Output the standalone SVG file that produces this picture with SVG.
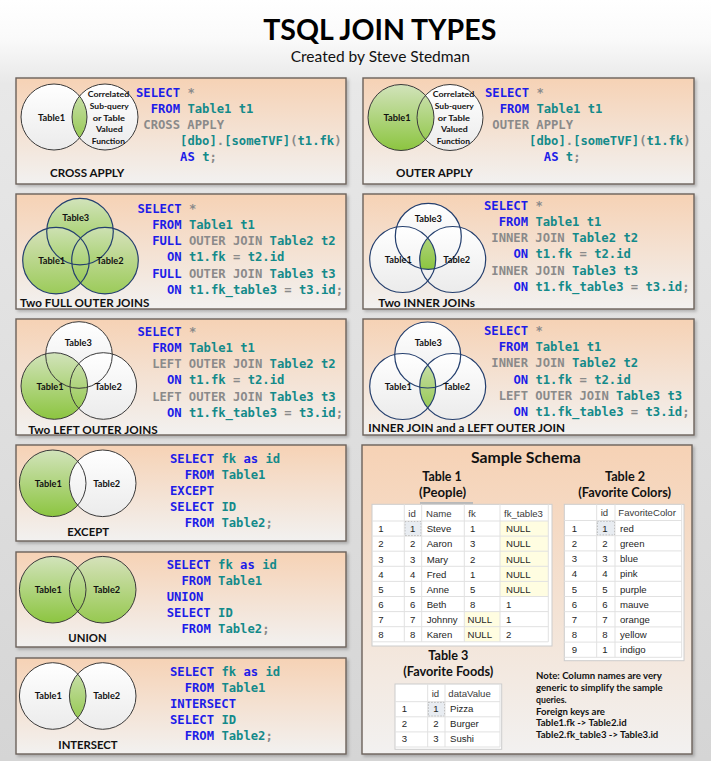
<svg xmlns="http://www.w3.org/2000/svg" width="711" height="761" viewBox="0 0 711 761">
<defs>
<linearGradient id="bg" x1="0" y1="0" x2="0" y2="1"><stop offset="0" stop-color="#ffffff"/><stop offset="0.05" stop-color="#fafafa"/><stop offset="0.11" stop-color="#e8e8e8"/><stop offset="1" stop-color="#d5d5d5"/></linearGradient>
<linearGradient id="pg" x1="0" y1="0" x2="0" y2="1"><stop offset="0" stop-color="#f6d2b5"/><stop offset="1" stop-color="#f2f1f0"/></linearGradient>
<linearGradient id="gr" x1="0" y1="0" x2="0" y2="1"><stop offset="0" stop-color="#d2e3bb"/><stop offset="1" stop-color="#8cc540"/></linearGradient>
<linearGradient id="wh" x1="0" y1="0" x2="0" y2="1"><stop offset="0" stop-color="#ffffff"/><stop offset="1" stop-color="#ebebeb"/></linearGradient>
<filter id="sh" x="-5%" y="-5%" width="112%" height="115%"><feDropShadow dx="2" dy="2" stdDeviation="1.5" flood-color="#000" flood-opacity="0.22"/></filter>
<clipPath id="p1a"><circle cx="54" cy="117" r="33"/></clipPath>
<clipPath id="p2a"><circle cx="401" cy="117.5" r="33"/></clipPath>
<clipPath id="p4a"><circle cx="402.7" cy="259.5" r="33"/></clipPath>
<clipPath id="p4b"><circle cx="452.7" cy="259.5" r="33"/></clipPath>
<clipPath id="p6a"><circle cx="402.7" cy="386.5" r="33"/></clipPath>
<clipPath id="p10a"><circle cx="52.7" cy="696" r="33.3"/></clipPath>
<style>
.panel{fill:url(#pg);stroke:#6c625b;stroke-width:1.4;filter:url(#sh)}
.c{font-family:"DejaVu Sans Mono","Liberation Mono",monospace;font-size:12.2px;font-weight:bold;fill:#138a8a}
.k{fill:#1c1ce8}
.t{fill:#138a8a}
.g{fill:#8a8a8a}
.gf{fill:url(#gr)}
.wf{fill:url(#wh)}
.cs{fill:none;stroke:#3a3a3a;stroke-width:1}
.cn{fill:none;stroke:#243f6e;stroke-width:1.2}
.vl{font-family:Lato,"Liberation Sans",sans-serif;font-weight:bold;font-size:8.5px;fill:#111;text-anchor:middle}
.sl{font-family:Lato,"Liberation Sans",sans-serif;font-weight:bold;font-size:8.3px;fill:#111;text-anchor:middle}
.pl{font-family:Lato,"Liberation Sans",sans-serif;font-weight:bold;font-size:11.5px;fill:#111}
.hd{font-family:Lato,"Liberation Sans",sans-serif;font-weight:bold;fill:#111;text-anchor:middle}
.nt{font-family:Lato,"Liberation Sans",sans-serif;font-weight:bold;font-size:8.6px;fill:#111}
.tb{fill:#ffffff;stroke:#cccccc;stroke-width:1}
.gl{stroke:#e1e1e1;stroke-width:1}
.td{font-family:"Liberation Sans",Arial,sans-serif;font-size:9.6px;fill:#262626}
.th{font-family:"Liberation Sans",Arial,sans-serif;font-size:9.6px;fill:#3a3a3a}
.yl{fill:#fffde1}
.sel{fill:#e8ecf1;stroke:#8a8a8a;stroke-width:0.8;stroke-dasharray:1.5 1.5}
</style>
</defs>

<rect x="0" y="0" width="711" height="761" fill="url(#bg)"/>

<g id="title">
<text x="263.3" y="39.5" font-family="Lato, 'Liberation Sans', sans-serif" font-weight="bold" font-size="29" fill="#000" textLength="233" lengthAdjust="spacingAndGlyphs">TSQL JOIN TYPES</text>
<text x="290.7" y="61.7" font-family="Lato, 'Liberation Sans', sans-serif" font-size="15" fill="#111" textLength="179.3" lengthAdjust="spacingAndGlyphs">Created by Steve Stedman</text>
</g>

<g id="connectors"/>

<!-- CROSS APPLY -->
<g id="cross-apply">
<rect class="panel" x="16" y="78" width="330" height="106"/>
<circle class="wf" cx="54" cy="117" r="33"/>
<circle class="wf" cx="105" cy="117" r="33"/>
<circle class="gf" cx="105" cy="117" r="33" clip-path="url(#p1a)"/>
<circle class="cs" cx="54" cy="117" r="33"/>
<circle class="cs" cx="105" cy="117" r="33"/>
<text class="vl" x="51.5" y="120.7" textLength="27" lengthAdjust="spacingAndGlyphs">Table1</text>
<text class="sl" x="108.4" y="97.3" textLength="41.5" lengthAdjust="spacingAndGlyphs">Correlated</text>
<text class="sl" x="109.3" y="108.9" textLength="39" lengthAdjust="spacingAndGlyphs">Sub-query</text>
<text class="sl" x="108.8" y="120.6" textLength="32.3" lengthAdjust="spacingAndGlyphs">or Table</text>
<text class="sl" x="109.3" y="132.1" textLength="26.7" lengthAdjust="spacingAndGlyphs">Valued</text>
<text class="sl" x="108.3" y="143.6" textLength="33.3" lengthAdjust="spacingAndGlyphs">Function</text>
<text class="pl" x="50" y="176.5" textLength="74.3" lengthAdjust="spacingAndGlyphs">CROSS APPLY</text>
<text class="c" x="136" y="97"><tspan class="k">SELECT</tspan> <tspan class="g">*</tspan></text>
<text class="c" x="150.7" y="113"><tspan class="k">FROM</tspan> <tspan class="t">Table1 t1</tspan></text>
<text class="c g" x="143.3" y="129">CROSS APPLY</text>
<text class="c" x="180.1" y="145"><tspan class="t">[dbo]</tspan><tspan class="g">.</tspan><tspan class="t">[someTVF]</tspan><tspan class="g">(</tspan><tspan class="t">t1.fk</tspan><tspan class="g">)</tspan></text>
<text class="c" x="180.1" y="161"><tspan class="k">AS</tspan> <tspan class="t">t</tspan><tspan class="g">;</tspan></text>
</g>

<!-- OUTER APPLY -->
<g id="outer-apply">
<rect class="panel" x="363" y="78" width="331" height="106"/>
<circle class="gf" cx="401" cy="117.5" r="33"/>
<circle class="wf" cx="450" cy="117.5" r="33"/>
<circle class="gf" cx="450" cy="117.5" r="33" clip-path="url(#p2a)"/>
<circle class="cs" cx="401" cy="117.5" r="33"/>
<circle class="cs" cx="450" cy="117.5" r="33"/>
<text class="vl" x="397" y="120.7" textLength="27" lengthAdjust="spacingAndGlyphs">Table1</text>
<text class="sl" x="453.5" y="97.3" textLength="41.5" lengthAdjust="spacingAndGlyphs">Correlated</text>
<text class="sl" x="454.3" y="108.9" textLength="39" lengthAdjust="spacingAndGlyphs">Sub-query</text>
<text class="sl" x="453.8" y="120.6" textLength="32.3" lengthAdjust="spacingAndGlyphs">or Table</text>
<text class="sl" x="454.3" y="132.1" textLength="26.7" lengthAdjust="spacingAndGlyphs">Valued</text>
<text class="sl" x="453.3" y="143.6" textLength="33.3" lengthAdjust="spacingAndGlyphs">Function</text>
<text class="pl" x="396" y="176.5" textLength="76.7" lengthAdjust="spacingAndGlyphs">OUTER APPLY</text>
<text class="c" x="485" y="97"><tspan class="k">SELECT</tspan> <tspan class="g">*</tspan></text>
<text class="c" x="499.7" y="113"><tspan class="k">FROM</tspan> <tspan class="t">Table1 t1</tspan></text>
<text class="c g" x="492.3" y="129">OUTER APPLY</text>
<text class="c" x="529.1" y="145"><tspan class="t">[dbo]</tspan><tspan class="g">.</tspan><tspan class="t">[someTVF]</tspan><tspan class="g">(</tspan><tspan class="t">t1.fk</tspan><tspan class="g">)</tspan></text>
<text class="c" x="543.8" y="161"><tspan class="k">AS</tspan> <tspan class="t">t</tspan><tspan class="g">;</tspan></text>
</g>

<!-- Two FULL OUTER JOINS -->
<g id="full-outer-joins">
<rect class="panel" x="16" y="194" width="330" height="115"/>
<circle class="gf" cx="80" cy="231.6" r="33.3"/>
<circle class="gf" cx="56" cy="260.6" r="33.3" opacity="0.85"/>
<circle class="gf" cx="105" cy="260.6" r="33.3" opacity="0.85"/>
<circle class="cn" cx="80" cy="231.6" r="33.3"/>
<circle class="cn" cx="56" cy="260.6" r="33.3"/>
<circle class="cn" cx="105" cy="260.6" r="33.3"/>
<text class="vl" x="75.7" y="220.8" textLength="27" lengthAdjust="spacingAndGlyphs">Table3</text>
<text class="vl" x="51.7" y="264" textLength="27" lengthAdjust="spacingAndGlyphs">Table1</text>
<text class="vl" x="110" y="264" textLength="27" lengthAdjust="spacingAndGlyphs">Table2</text>
<text class="pl" x="20" y="306.5" textLength="129.3" lengthAdjust="spacingAndGlyphs">Two FULL OUTER JOINS</text>
<text class="c" x="137.5" y="212.7"><tspan class="k">SELECT</tspan> <tspan class="g">*</tspan></text>
<text class="c" x="152.2" y="228.9"><tspan class="k">FROM</tspan> <tspan class="t">Table1 t1</tspan></text>
<text class="c" x="152.2" y="245.1"><tspan class="k">FULL</tspan> <tspan class="g">OUTER JOIN</tspan> <tspan class="t">Table2 t2</tspan></text>
<text class="c" x="166.9" y="261.3"><tspan class="k">ON</tspan> <tspan class="t">t1.fk</tspan> <tspan class="g">=</tspan> <tspan class="t">t2.id</tspan></text>
<text class="c" x="152.2" y="277.5"><tspan class="k">FULL</tspan> <tspan class="g">OUTER JOIN</tspan> <tspan class="t">Table3 t3</tspan></text>
<text class="c" x="166.9" y="293.7"><tspan class="k">ON</tspan> <tspan class="t">t1.fk_table3</tspan> <tspan class="g">=</tspan> <tspan class="t">t3.id</tspan><tspan class="g">;</tspan></text>
</g>

<!-- Two INNER JOINs -->
<g id="inner-joins">
<rect class="panel" x="363" y="194" width="331" height="115"/>
<circle class="wf" cx="428.3" cy="236.3" r="33"/>
<circle class="wf" cx="402.7" cy="259.5" r="33"/>
<circle class="wf" cx="452.7" cy="259.5" r="33"/>
<g clip-path="url(#p4a)"><g clip-path="url(#p4b)"><circle class="gf" cx="428.3" cy="236.3" r="33"/></g></g>
<circle class="cn" cx="428.3" cy="236.3" r="33"/>
<circle class="cn" cx="402.7" cy="259.5" r="33"/>
<circle class="cn" cx="452.7" cy="259.5" r="33"/>
<text class="vl" x="428.3" y="221.7" textLength="27" lengthAdjust="spacingAndGlyphs">Table3</text>
<text class="vl" x="398.3" y="263.3" textLength="27" lengthAdjust="spacingAndGlyphs">Table1</text>
<text class="vl" x="456.7" y="263.3" textLength="27" lengthAdjust="spacingAndGlyphs">Table2</text>
<text class="pl" x="378.3" y="306.5" textLength="96.7" lengthAdjust="spacingAndGlyphs">Two INNER JOINs</text>
<text class="c" x="484" y="209.5"><tspan class="k">SELECT</tspan> <tspan class="g">*</tspan></text>
<text class="c" x="498.7" y="225.8"><tspan class="k">FROM</tspan> <tspan class="t">Table1 t1</tspan></text>
<text class="c" x="491.3" y="242.1"><tspan class="g">INNER JOIN</tspan> <tspan class="t">Table2 t2</tspan></text>
<text class="c" x="513.4" y="258.4"><tspan class="k">ON</tspan> <tspan class="t">t1.fk</tspan> <tspan class="g">=</tspan> <tspan class="t">t2.id</tspan></text>
<text class="c" x="491.3" y="274.7"><tspan class="g">INNER JOIN</tspan> <tspan class="t">Table3 t3</tspan></text>
<text class="c" x="513.4" y="291"><tspan class="k">ON</tspan> <tspan class="t">t1.fk_table3</tspan> <tspan class="g">=</tspan> <tspan class="t">t3.id</tspan><tspan class="g">;</tspan></text>
</g>

<!-- Two LEFT OUTER JOINS -->
<g id="left-outer-joins">
<rect class="panel" x="16" y="319" width="330" height="116"/>
<circle class="wf" cx="79" cy="355" r="33.3"/>
<circle class="wf" cx="103.3" cy="386" r="33.3"/>
<circle class="gf" cx="54.3" cy="386" r="33.3"/>
<circle class="cs" cx="79" cy="355" r="33.3"/>
<circle class="cs" cx="54.3" cy="386" r="33.3"/>
<circle class="cs" cx="103.3" cy="386" r="33.3"/>
<text class="vl" x="78.3" y="345.6" textLength="27" lengthAdjust="spacingAndGlyphs">Table3</text>
<text class="vl" x="50" y="390.3" textLength="27" lengthAdjust="spacingAndGlyphs">Table1</text>
<text class="vl" x="108.3" y="390.3" textLength="27" lengthAdjust="spacingAndGlyphs">Table2</text>
<text class="pl" x="28.3" y="433.5" textLength="129.3" lengthAdjust="spacingAndGlyphs">Two LEFT OUTER JOINS</text>
<text class="c" x="137.5" y="335.7"><tspan class="k">SELECT</tspan> <tspan class="g">*</tspan></text>
<text class="c" x="152.2" y="351.9"><tspan class="k">FROM</tspan> <tspan class="t">Table1 t1</tspan></text>
<text class="c" x="152.2" y="368.1"><tspan class="g">LEFT OUTER JOIN</tspan> <tspan class="t">Table2 t2</tspan></text>
<text class="c" x="166.9" y="384.3"><tspan class="k">ON</tspan> <tspan class="t">t1.fk</tspan> <tspan class="g">=</tspan> <tspan class="t">t2.id</tspan></text>
<text class="c" x="152.2" y="400.5"><tspan class="g">LEFT OUTER JOIN</tspan> <tspan class="t">Table3 t3</tspan></text>
<text class="c" x="166.9" y="416.7"><tspan class="k">ON</tspan> <tspan class="t">t1.fk_table3</tspan> <tspan class="g">=</tspan> <tspan class="t">t3.id</tspan><tspan class="g">;</tspan></text>
</g>

<!-- INNER JOIN and a LEFT OUTER JOIN -->
<g id="inner-and-left-join">
<rect class="panel" x="363" y="319" width="331" height="116"/>
<circle class="wf" cx="427.7" cy="355" r="33"/>
<circle class="wf" cx="402.7" cy="386.5" r="33"/>
<circle class="wf" cx="452.7" cy="386.5" r="33"/>
<circle class="gf" cx="452.7" cy="386.5" r="33" clip-path="url(#p6a)"/>
<circle class="cn" cx="427.7" cy="355" r="33"/>
<circle class="cn" cx="402.7" cy="386.5" r="33"/>
<circle class="cn" cx="452.7" cy="386.5" r="33"/>
<text class="vl" x="428.3" y="345.6" textLength="27" lengthAdjust="spacingAndGlyphs">Table3</text>
<text class="vl" x="398.3" y="390.3" textLength="27" lengthAdjust="spacingAndGlyphs">Table1</text>
<text class="vl" x="456.7" y="390.3" textLength="27" lengthAdjust="spacingAndGlyphs">Table2</text>
<text class="pl" x="368.3" y="432.3" textLength="196.7" lengthAdjust="spacingAndGlyphs">INNER JOIN and a LEFT OUTER JOIN</text>
<text class="c" x="484" y="335"><tspan class="k">SELECT</tspan> <tspan class="g">*</tspan></text>
<text class="c" x="498.7" y="351.2"><tspan class="k">FROM</tspan> <tspan class="t">Table1 t1</tspan></text>
<text class="c" x="491.3" y="367.4"><tspan class="g">INNER JOIN</tspan> <tspan class="t">Table2 t2</tspan></text>
<text class="c" x="513.4" y="383.6"><tspan class="k">ON</tspan> <tspan class="t">t1.fk</tspan> <tspan class="g">=</tspan> <tspan class="t">t2.id</tspan></text>
<text class="c" x="498.7" y="399.8"><tspan class="g">LEFT OUTER JOIN</tspan> <tspan class="t">Table3 t3</tspan></text>
<text class="c" x="513.4" y="416"><tspan class="k">ON</tspan> <tspan class="t">t1.fk_table3</tspan> <tspan class="g">=</tspan> <tspan class="t">t3.id</tspan><tspan class="g">;</tspan></text>
</g>

<!-- EXCEPT -->
<g id="except">
<rect class="panel" x="16" y="445" width="330" height="96"/>
<circle class="gf" cx="52.7" cy="483.3" r="33.3"/>
<circle class="wf" cx="102.7" cy="483.3" r="33.3"/>
<circle class="cs" cx="52.7" cy="483.3" r="33.3"/>
<circle class="cs" cx="102.7" cy="483.3" r="33.3"/>
<text class="vl" x="48.3" y="486.7" textLength="27" lengthAdjust="spacingAndGlyphs">Table1</text>
<text class="vl" x="106.7" y="486.7" textLength="27" lengthAdjust="spacingAndGlyphs">Table2</text>
<text class="pl" x="67.3" y="535.5" textLength="41.7" lengthAdjust="spacingAndGlyphs">EXCEPT</text>
<text class="c" x="170" y="463"><tspan class="k">SELECT</tspan> <tspan class="t">fk</tspan> <tspan class="k">as</tspan> <tspan class="t">id</tspan></text>
<text class="c" x="184.7" y="479"><tspan class="k">FROM</tspan> <tspan class="t">Table1</tspan></text>
<text class="c k" x="170" y="495">EXCEPT</text>
<text class="c" x="170" y="511"><tspan class="k">SELECT</tspan> <tspan class="t">ID</tspan></text>
<text class="c" x="184.7" y="527"><tspan class="k">FROM</tspan> <tspan class="t">Table2</tspan><tspan class="g">;</tspan></text>
</g>

<!-- UNION -->
<g id="union">
<rect class="panel" x="16" y="552" width="330" height="95"/>
<circle class="gf" cx="52.7" cy="589.7" r="33.3"/>
<circle class="gf" cx="102.7" cy="589.7" r="33.3" opacity="0.9"/>
<circle class="cs" cx="52.7" cy="589.7" r="33.3"/>
<circle class="cs" cx="102.7" cy="589.7" r="33.3"/>
<text class="vl" x="48.3" y="592.7" textLength="27" lengthAdjust="spacingAndGlyphs">Table1</text>
<text class="vl" x="106.7" y="592.7" textLength="27" lengthAdjust="spacingAndGlyphs">Table2</text>
<text class="pl" x="68.3" y="641.5" textLength="38.3" lengthAdjust="spacingAndGlyphs">UNION</text>
<text class="c" x="166.7" y="569"><tspan class="k">SELECT</tspan> <tspan class="t">fk</tspan> <tspan class="k">as</tspan> <tspan class="t">id</tspan></text>
<text class="c" x="181.4" y="585.1"><tspan class="k">FROM</tspan> <tspan class="t">Table1</tspan></text>
<text class="c k" x="166.7" y="601.2">UNION</text>
<text class="c" x="166.7" y="617.3"><tspan class="k">SELECT</tspan> <tspan class="t">ID</tspan></text>
<text class="c" x="181.4" y="633.4"><tspan class="k">FROM</tspan> <tspan class="t">Table2</tspan><tspan class="g">;</tspan></text>
</g>

<!-- INTERSECT -->
<g id="intersect">
<rect class="panel" x="16" y="658" width="330" height="96"/>
<circle class="wf" cx="52.7" cy="696" r="33.3"/>
<circle class="wf" cx="102.7" cy="696" r="33.3"/>
<circle class="gf" cx="102.7" cy="696" r="33.3" clip-path="url(#p10a)"/>
<circle class="cs" cx="52.7" cy="696" r="33.3"/>
<circle class="cs" cx="102.7" cy="696" r="33.3"/>
<text class="vl" x="48.3" y="699.2" textLength="27" lengthAdjust="spacingAndGlyphs">Table1</text>
<text class="vl" x="106.7" y="699.2" textLength="27" lengthAdjust="spacingAndGlyphs">Table2</text>
<text class="pl" x="58.3" y="748.5" textLength="59.3" lengthAdjust="spacingAndGlyphs">INTERSECT</text>
<text class="c" x="170" y="676"><tspan class="k">SELECT</tspan> <tspan class="t">fk</tspan> <tspan class="k">as</tspan> <tspan class="t">id</tspan></text>
<text class="c" x="184.7" y="692"><tspan class="k">FROM</tspan> <tspan class="t">Table1</tspan></text>
<text class="c k" x="170" y="708">INTERSECT</text>
<text class="c" x="170" y="724"><tspan class="k">SELECT</tspan> <tspan class="t">ID</tspan></text>
<text class="c" x="184.7" y="740"><tspan class="k">FROM</tspan> <tspan class="t">Table2</tspan><tspan class="g">;</tspan></text>
</g>

<!-- Sample Schema -->
<g id="sample-schema">
<rect class="panel" x="362" y="445" width="330" height="309"/>
<text class="hd" x="525.8" y="463.3" font-size="15.5" textLength="109.7" lengthAdjust="spacingAndGlyphs">Sample Schema</text>
<text class="hd" x="442" y="480.8" font-size="12.5" textLength="39.3" lengthAdjust="spacingAndGlyphs">Table 1</text>
<text class="hd" x="442.5" y="496.5" font-size="12.5" textLength="47" lengthAdjust="spacingAndGlyphs">(People)</text>
<text class="hd" x="625" y="480.8" font-size="12.5" textLength="40" lengthAdjust="spacingAndGlyphs">Table 2</text>
<text class="hd" x="624.7" y="496.5" font-size="12.5" textLength="92.7" lengthAdjust="spacingAndGlyphs">(Favorite Colors)</text>
<text class="hd" x="448.3" y="660" font-size="12.5" textLength="40" lengthAdjust="spacingAndGlyphs">Table 3</text>
<text class="hd" x="448.3" y="676" font-size="12.5" textLength="90" lengthAdjust="spacingAndGlyphs">(Favorite Foods)</text>

<g id="table1">
<rect x="420" y="502" width="53" height="3" fill="#b8b8b8"/>
<rect class="tb" x="372" y="504.3" width="180" height="141.7"/>
<rect class="yl" x="500" y="521" width="48.3" height="75.5"/>
<rect class="yl" x="464.3" y="611.6" width="35.7" height="30.2"/>
<rect class="sel" x="404.8" y="521.5" width="16.4" height="14.1"/>
<g class="gl">
<line x1="404.3" y1="504.3" x2="404.3" y2="641.8"/><line x1="421.7" y1="504.3" x2="421.7" y2="641.8"/><line x1="464.3" y1="504.3" x2="464.3" y2="641.8"/><line x1="500" y1="504.3" x2="500" y2="641.8"/><line x1="548.3" y1="504.3" x2="548.3" y2="641.8"/>
<line x1="372" y1="521" x2="548.3" y2="521"/><line x1="372" y1="536.1" x2="548.3" y2="536.1"/><line x1="372" y1="551.2" x2="548.3" y2="551.2"/><line x1="372" y1="566.3" x2="548.3" y2="566.3"/><line x1="372" y1="581.4" x2="548.3" y2="581.4"/><line x1="372" y1="596.5" x2="548.3" y2="596.5"/><line x1="372" y1="611.6" x2="548.3" y2="611.6"/><line x1="372" y1="626.7" x2="548.3" y2="626.7"/><line x1="372" y1="641.8" x2="548.3" y2="641.8"/>
</g>
<text class="th" x="408.3" y="517.3">id</text><text class="th" x="426" y="517.3">Name</text><text class="th" x="468.3" y="517.3">fk</text><text class="th" x="504" y="517.3">fk_table3</text>
<text class="td" y="532.3"><tspan x="378.3">1</tspan><tspan x="410">1</tspan><tspan x="426.7">Steve</tspan><tspan x="470">1</tspan><tspan x="506">NULL</tspan></text>
<text class="td" y="547.4"><tspan x="378.3">2</tspan><tspan x="410">2</tspan><tspan x="426.7">Aaron</tspan><tspan x="470">3</tspan><tspan x="506">NULL</tspan></text>
<text class="td" y="562.5"><tspan x="378.3">3</tspan><tspan x="410">3</tspan><tspan x="426.7">Mary</tspan><tspan x="470">2</tspan><tspan x="506">NULL</tspan></text>
<text class="td" y="577.6"><tspan x="378.3">4</tspan><tspan x="410">4</tspan><tspan x="426.7">Fred</tspan><tspan x="470">1</tspan><tspan x="506">NULL</tspan></text>
<text class="td" y="592.7"><tspan x="378.3">5</tspan><tspan x="410">5</tspan><tspan x="426.7">Anne</tspan><tspan x="470">5</tspan><tspan x="506">NULL</tspan></text>
<text class="td" y="607.8"><tspan x="378.3">6</tspan><tspan x="410">6</tspan><tspan x="426.7">Beth</tspan><tspan x="470">8</tspan><tspan x="506">1</tspan></text>
<text class="td" y="622.9"><tspan x="378.3">7</tspan><tspan x="410">7</tspan><tspan x="426.7">Johnny</tspan><tspan x="467.5">NULL</tspan><tspan x="506">1</tspan></text>
<text class="td" y="638"><tspan x="378.3">8</tspan><tspan x="410">8</tspan><tspan x="426.7">Karen</tspan><tspan x="467.5">NULL</tspan><tspan x="506">2</tspan></text>
</g>

<g id="table2">
<rect class="tb" x="564.3" y="504.3" width="119.7" height="156.4"/>
<rect class="sel" x="597.2" y="521" width="17.3" height="14.2"/>
<g class="gl">
<line x1="596.7" y1="504.3" x2="596.7" y2="657.3"/><line x1="615" y1="504.3" x2="615" y2="657.3"/><line x1="681.7" y1="504.3" x2="681.7" y2="657.3"/>
<line x1="564.3" y1="520.5" x2="681.7" y2="520.5"/><line x1="564.3" y1="535.7" x2="681.7" y2="535.7"/><line x1="564.3" y1="550.9" x2="681.7" y2="550.9"/><line x1="564.3" y1="566.1" x2="681.7" y2="566.1"/><line x1="564.3" y1="581.3" x2="681.7" y2="581.3"/><line x1="564.3" y1="596.5" x2="681.7" y2="596.5"/><line x1="564.3" y1="611.7" x2="681.7" y2="611.7"/><line x1="564.3" y1="626.9" x2="681.7" y2="626.9"/><line x1="564.3" y1="642.1" x2="681.7" y2="642.1"/><line x1="564.3" y1="657.3" x2="681.7" y2="657.3"/>
</g>
<text class="th" x="600.7" y="516">id</text><text class="th" x="618.3" y="516">FavoriteColor</text>
<text class="td" y="531.7"><tspan x="571.7">1</tspan><tspan x="602.3">1</tspan><tspan x="620">red</tspan></text>
<text class="td" y="546.9"><tspan x="571.7">2</tspan><tspan x="602.3">2</tspan><tspan x="620">green</tspan></text>
<text class="td" y="562.1"><tspan x="571.7">3</tspan><tspan x="602.3">3</tspan><tspan x="620">blue</tspan></text>
<text class="td" y="577.3"><tspan x="571.7">4</tspan><tspan x="602.3">4</tspan><tspan x="620">pink</tspan></text>
<text class="td" y="592.5"><tspan x="571.7">5</tspan><tspan x="602.3">5</tspan><tspan x="620">purple</tspan></text>
<text class="td" y="607.7"><tspan x="571.7">6</tspan><tspan x="602.3">6</tspan><tspan x="620">mauve</tspan></text>
<text class="td" y="622.9"><tspan x="571.7">7</tspan><tspan x="602.3">7</tspan><tspan x="620">orange</tspan></text>
<text class="td" y="638.1"><tspan x="571.7">8</tspan><tspan x="602.3">8</tspan><tspan x="620">yellow</tspan></text>
<text class="td" y="653.3"><tspan x="571.7">9</tspan><tspan x="602.3">1</tspan><tspan x="620">indigo</tspan></text>
</g>

<g id="table3">
<rect class="tb" x="395" y="684" width="106.7" height="65.3"/>
<rect class="sel" x="428.2" y="702.2" width="16.3" height="14"/>
<g class="gl">
<line x1="427.7" y1="684" x2="427.7" y2="747"/><line x1="445" y1="684" x2="445" y2="747"/><line x1="500" y1="684" x2="500" y2="747"/>
<line x1="395" y1="701.7" x2="500" y2="701.7"/><line x1="395" y1="716.8" x2="500" y2="716.8"/><line x1="395" y1="731.9" x2="500" y2="731.9"/><line x1="395" y1="747" x2="500" y2="747"/>
</g>
<text class="th" x="431.7" y="696.7">id</text><text class="th" x="448.3" y="696.7">dataValue</text>
<text class="td" y="711.7"><tspan x="401.7">1</tspan><tspan x="433.3">1</tspan><tspan x="450">Pizza</tspan></text>
<text class="td" y="726.8"><tspan x="401.7">2</tspan><tspan x="433.3">2</tspan><tspan x="450">Burger</tspan></text>
<text class="td" y="741.9"><tspan x="401.7">3</tspan><tspan x="433.3">3</tspan><tspan x="450">Sushi</tspan></text>
</g>

<g id="note">
<text class="nt" x="536" y="679" textLength="125.7" lengthAdjust="spacingAndGlyphs">Note: Column names are very</text>
<text class="nt" x="536" y="690.9" textLength="126.7" lengthAdjust="spacingAndGlyphs">generic to simplify the sample</text>
<text class="nt" x="536" y="702.7" textLength="30.7" lengthAdjust="spacingAndGlyphs">queries.</text>
<text class="nt" x="536" y="714.5" textLength="69" lengthAdjust="spacingAndGlyphs">Foreign keys are</text>
<text class="nt" x="536" y="726.3" textLength="90.7" lengthAdjust="spacingAndGlyphs">Table1.fk -&gt; Table2.id</text>
<text class="nt" x="536" y="738.1" textLength="122.3" lengthAdjust="spacingAndGlyphs">Table2.fk_table3 -&gt; Table3.id</text>
</g>
</g>
</svg>
